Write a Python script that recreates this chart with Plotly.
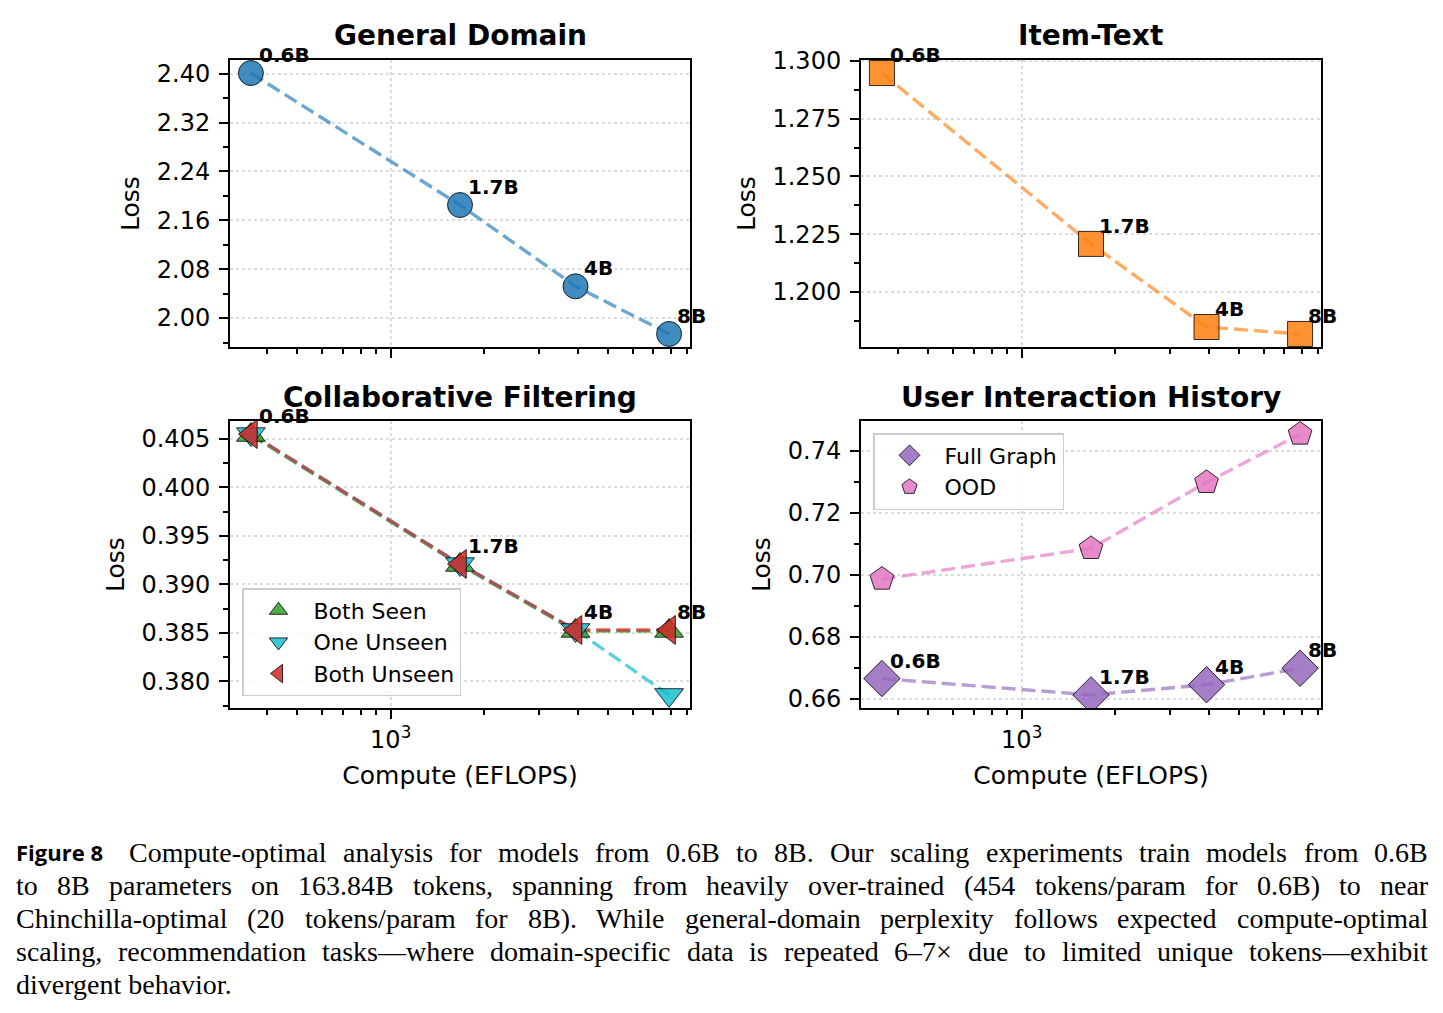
import numpy as np
import plotly.graph_objects as go

# ---------------- data ----------------
models = ["0.6B", "1.7B", "4B", "8B"]
compute = [355, 1671, 3932, 7864]  # EFLOPS

general_loss = [2.401, 2.185, 2.052, 1.974]
item_text_loss = [1.2948, 1.2208, 1.1848, 1.1818]

cf_both_seen = [0.4054, 0.3920, 0.3852, 0.3852]
cf_one_unseen = [0.4055, 0.3921, 0.3853, 0.3786]
cf_both_unseen = [0.4055, 0.3921, 0.3853, 0.3853]

uih_full_graph = [0.6665, 0.6612, 0.6645, 0.6698]
uih_ood = [0.6986, 0.7085, 0.7298, 0.7454]

panel_titles = ["General Domain", "Item-Text", "Collaborative Filtering", "User Interaction History"]
caption_label = "Figure 8"
caption_lines = [
    "Compute-optimal analysis for models from 0.6B to 8B. Our scaling experiments train models from 0.6B",
    "to 8B parameters on 163.84B tokens, spanning from heavily over-trained (454 tokens/param for 0.6B) to near",
    "Chinchilla-optimal (20 tokens/param for 8B). While general-domain perplexity follows expected compute-optimal",
    "scaling, recommendation tasks\u2014where domain-specific data is repeated 6\u20137\u00d7 due to limited unique tokens\u2014exhibit",
    "divergent behavior.",
]

# ---------------- layout geometry ----------------
W, H = 1443, 1013
FONT = "DejaVu Sans"

def px_x(x):
    return x / W

def px_y(y):
    return 1 - y / H

col_dom = [[px_x(230), px_x(690)], [px_x(861), px_x(1321)]]
row_dom = [[px_y(347), px_y(60)], [px_y(708), px_y(421)]]

def rgba(hexc, a):
    hexc = hexc.lstrip("#")
    r, g, b = int(hexc[0:2], 16), int(hexc[2:4], 16), int(hexc[4:6], 16)
    return f"rgba({r},{g},{b},{a})"

BLUE, ORANGE, GREEN, CYAN, RED, PURPLE, PINK = (
    "#1f77b4", "#ff7f0e", "#2ca02c", "#17becf", "#d62728", "#9467bd", "#e377c2")

def mpl_range(vals, log=False):
    v = np.array(vals, dtype=float)
    if log:
        v = np.log10(v)
    lo, hi = v.min(), v.max()
    m = 0.05 * (hi - lo)
    return [lo - m, hi + m]

fig = go.Figure()

DASH = "14px,6px"
LW = 3.4

def add_line(xa, ya, y, color, a=0.65):
    fig.add_trace(go.Scatter(x=compute, y=y, mode="lines", xaxis=xa, yaxis=ya,
                             line=dict(color=rgba(color, a), width=LW, dash=DASH),
                             showlegend=False, hoverinfo="skip"))

def add_markers(xa, ya, y, color, symbol, size, name=None, legend=None):
    fig.add_trace(go.Scatter(x=compute, y=y, mode="markers", xaxis=xa, yaxis=ya,
                             marker=dict(color=rgba(color, 0.85), symbol=symbol, size=size,
                                         line=dict(color="rgba(0,0,0,0.8)", width=1)),
                             name=name, showlegend=name is not None,
                             legend=legend if legend else "legend"))

# General Domain
add_line("x", "y", general_loss, BLUE)
add_markers("x", "y", general_loss, BLUE, "circle", 25)
# Item-Text
add_line("x2", "y2", item_text_loss, ORANGE)
add_markers("x2", "y2", item_text_loss, ORANGE, "square", 25)
# Collaborative filtering
add_line("x3", "y3", cf_both_seen, GREEN, 0.7)
add_line("x3", "y3", cf_one_unseen, CYAN, 0.7)
add_line("x3", "y3", cf_both_unseen, RED, 0.7)
add_markers("x3", "y3", cf_both_seen, GREEN, "triangle-up", 25, "Both Seen", "legend")
add_markers("x3", "y3", cf_one_unseen, CYAN, "triangle-down", 25, "One Unseen", "legend")
add_markers("x3", "y3", cf_both_unseen, RED, "triangle-left", 25, "Both Unseen", "legend")
# User interaction history
add_line("x4", "y4", uih_full_graph, PURPLE)
add_line("x4", "y4", uih_ood, PINK)
add_markers("x4", "y4", uih_full_graph, PURPLE, "diamond", 28, "Full Graph", "legend2")
add_markers("x4", "y4", uih_ood, PINK, "pentagon", 25, "OOD", "legend2")

# ---------------- axes ----------------
xr = mpl_range(compute, log=True)
minor_x = [k * 10 ** e for e in (2, 3) for k in range(2, 10)]
minor_x = [v for v in minor_x if xr[0] <= np.log10(v) <= xr[1] and v != 1000]

common_axis = dict(showline=True, linecolor="black", linewidth=2, mirror=True,
                   ticks="outside", ticklen=9, tickwidth=2, tickcolor="black",
                   showgrid=True, gridcolor="#dcdcdc", gridwidth=1.5, griddash="dot",
                   zeroline=False, automargin=False,
                   tickfont=dict(size=24, color="black", family=FONT))

y_specs = [
    (general_loss, 2.0, 0.08, ".2f"),
    (item_text_loss, 1.2, 0.025, ".3f"),
    (cf_both_seen + cf_one_unseen + cf_both_unseen, 0.38, 0.005, ".3f"),
    (uih_full_graph + uih_ood, 0.66, 0.02, ".2f"),
]

layout_axes = {}
for i in range(4):
    r, c = divmod(i, 2)
    sfx = "" if i == 0 else str(i + 1)
    xa = dict(common_axis, type="log", range=xr, domain=col_dom[c],
              anchor="y" + sfx, tickmode="array", tickvals=[1000],
              ticktext=["10<sup>3</sup>"], showticklabels=(r == 1),
              minor=dict(tickmode="array", tickvals=minor_x, ticks="outside",
                         ticklen=5, tickwidth=1.5, tickcolor="black", showgrid=False))
    if r == 1:
        xa["title"] = dict(text="Compute (EFLOPS)", font=dict(size=25, family=FONT, color="black"),
                           standoff=14)
    yvals, t0, dt, fmt = y_specs[i]
    ya = dict(common_axis, range=mpl_range(yvals), domain=row_dom[r],
              anchor="x" + sfx, tick0=t0, dtick=dt, tickformat=fmt,
              ticklabelstandoff=4,
              minor=dict(tick0=t0, dtick=dt / 2, ticks="outside", ticklen=5,
                         tickwidth=1.5, tickcolor="black", showgrid=False),
              title=dict(text="Loss", font=dict(size=25, family=FONT, color="black"), standoff=10))
    layout_axes["xaxis" + sfx] = xa
    layout_axes["yaxis" + sfx] = ya

fig.update_layout(**layout_axes)

# ---------------- annotations ----------------
annotations = []
title_y = [px_y(36), px_y(397)]
for i, t in enumerate(panel_titles):
    r, c = divmod(i, 2)
    annotations.append(dict(text=f"<b>{t}</b>", x=sum(col_dom[c]) / 2, y=title_y[r],
                            xref="paper", yref="paper", xanchor="center", yanchor="middle",
                            showarrow=False, font=dict(size=28, family=FONT, color="black")))

label_series = [("x", "y", general_loss), ("x2", "y2", item_text_loss),
                ("x3", "y3", cf_both_unseen), ("x4", "y4", uih_full_graph)]
for xa, ya, ys in label_series:
    for m, xv, yv in zip(models, compute, ys):
        annotations.append(dict(text=f"<b>{m}</b>", x=np.log10(xv), y=yv, xref=xa, yref=ya,
                                xanchor="left", yanchor="bottom", xshift=7, yshift=5,
                                showarrow=False, borderpad=0,
                                font=dict(size=20, family=FONT, color="black")))

# caption with approximate justification (Times metrics)
TIMES = {" ": 250, "!": 333, "(": 333, ")": 333, ",": 250, "-": 333, ".": 250, "/": 278, ":": 278,
         "\u2014": 1000, "\u2013": 500, "\u00d7": 564}
for ch in "0123456789":
    TIMES[ch] = 500
TIMES.update(dict(A=722, B=667, C=667, D=722, E=611, F=556, G=722, H=722, I=333, J=389, K=722,
                  L=611, M=889, N=722, O=722, P=556, Q=722, R=667, S=556, T=611, U=722, V=722,
                  W=944, X=722, Y=722, Z=611))
TIMES.update(dict(a=444, b=500, c=444, d=500, e=444, f=333, g=500, h=500, i=278, j=278, k=500,
                  l=278, m=778, n=500, o=500, p=500, q=500, r=333, s=389, t=278, u=500, v=500,
                  w=722, x=500, y=500, z=444))
CAP_SIZE = 28
CAP_FONT = "Liberation Serif"

def tw(s):
    return sum(TIMES.get(ch, 500) for ch in s) / 1000 * CAP_SIZE

cap_y = [852, 885, 918, 951, 984]
annotations.append(dict(text=f"<b>{caption_label}</b>", x=px_x(15), y=px_y(cap_y[0]),
                        xref="paper", yref="paper", xanchor="left", yanchor="middle",
                        showarrow=False, borderpad=0,
                        font=dict(size=22, family="Open Sans", color="black")))
for li, line in enumerate(caption_lines):
    x0 = 128 if li == 0 else 15
    x1 = 1427
    if li == len(caption_lines) - 1:
        annotations.append(dict(text=line, x=px_x(x0), y=px_y(cap_y[li]), xref="paper", yref="paper",
                                xanchor="left", yanchor="middle", showarrow=False, borderpad=0,
                                font=dict(size=CAP_SIZE, family=CAP_FONT, color="black")))
        continue
    words = line.split(" ")
    widths = [tw(w) for w in words]
    gap = (x1 - x0 - sum(widths)) / (len(words) - 1)
    pos = x0
    for w, wd in zip(words, widths):
        annotations.append(dict(text=w, x=px_x(pos), y=px_y(cap_y[li]), xref="paper", yref="paper",
                                xanchor="left", yanchor="middle", showarrow=False, borderpad=0,
                                font=dict(size=CAP_SIZE, family=CAP_FONT, color="black")))
        pos += wd + gap

legend_common = dict(xanchor="left", yanchor="top", bordercolor="#cccccc", borderwidth=1.5,
                     bgcolor="rgba(255,255,255,0.85)", itemsizing="trace", tracegroupgap=0,
                     itemwidth=60, font=dict(size=22, family=FONT, color="black"))

fig.update_layout(
    width=W, height=H, margin=dict(l=0, r=0, t=0, b=0, autoexpand=False),
    paper_bgcolor="white", plot_bgcolor="white",
    font=dict(family=FONT, color="black"),
    annotations=annotations,
    legend=dict(legend_common, x=px_x(242), y=px_y(588)),
    legend2=dict(legend_common, x=px_x(873), y=px_y(433)),
)

fig.write_html("out.html")
